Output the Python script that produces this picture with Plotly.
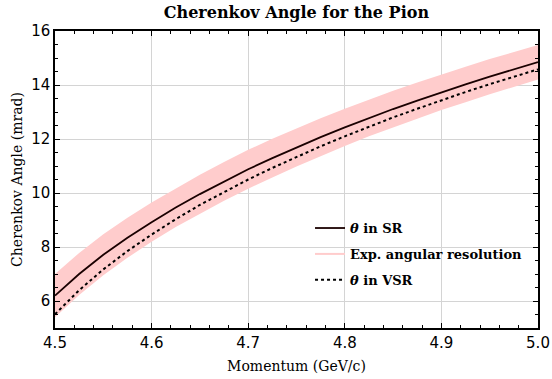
import plotly.graph_objects as go

momentum = [4.5, 4.525, 4.55, 4.575, 4.6, 4.625, 4.65, 4.675, 4.7, 4.725, 4.75,
            4.775, 4.8, 4.825, 4.85, 4.875, 4.9, 4.925, 4.95, 4.975, 5.0]
theta_sr = [6.20, 7.00, 7.71, 8.34, 8.92, 9.46, 9.96, 10.43, 10.88, 11.29, 11.69,
            12.07, 12.43, 12.78, 13.11, 13.42, 13.73, 14.02, 14.31, 14.58, 14.85]
theta_vsr = [5.51, 6.40, 7.17, 7.85, 8.46, 9.03, 9.56, 10.04, 10.50, 10.93, 11.34,
             11.73, 12.10, 12.46, 12.80, 13.12, 13.44, 13.74, 14.03, 14.31, 14.58]
res_upper = [7.00, 7.78, 8.47, 9.08, 9.65, 10.18, 10.68, 11.15, 11.60, 12.01, 12.40,
             12.77, 13.12, 13.46, 13.79, 14.09, 14.39, 14.68, 14.96, 15.23, 15.48]
res_lower = [5.40, 6.22, 6.95, 7.60, 8.19, 8.74, 9.24, 9.71, 10.16, 10.57, 10.98,
             11.37, 11.74, 12.10, 12.43, 12.75, 13.07, 13.36, 13.66, 13.93, 14.20]

x_ticks = [4.5, 4.6, 4.7, 4.8, 4.9, 5.0]
x_tick_labels = ["4.5", "4.6", "4.7", "4.8", "4.9", "5.0"]
y_ticks = [6, 8, 10, 12, 14, 16]

pink = "#ffcccc"
fig = go.Figure()

fig.add_trace(go.Scatter(
    x=momentum + momentum[::-1], y=res_upper + res_lower[::-1],
    fill="toself", fillcolor=pink, line=dict(width=0), mode="lines",
    showlegend=False, hoverinfo="skip"))

fig.add_trace(go.Scatter(
    x=momentum, y=theta_sr, mode="lines", line=dict(color="#1a0000", width=1.8),
    name="<b><i>θ</i> in SR</b>", legendrank=1, legendgroup="a"))
fig.add_trace(go.Scatter(
    x=[None], y=[None], mode="lines", line=dict(color=pink, width=2),
    name="<b>Exp. angular resolution</b>", legendrank=2, legendgroup="b"))
fig.add_trace(go.Scatter(
    x=momentum, y=theta_vsr, mode="lines",
    line=dict(color="black", width=2, dash="3px,3px"),
    name="<b><i>θ</i> in VSR</b>", legendrank=3, legendgroup="c"))

axis_common = dict(
    showline=True, linecolor="black", linewidth=1.5, mirror="allticks",
    ticks="inside", ticklen=5, tickcolor="black", tickwidth=1,
    showgrid=True, gridcolor="#d4d4d4", gridwidth=1, zeroline=False,
    automargin=False,
    tickfont=dict(family="DejaVu Sans", size=15, color="black"),
)

fig.update_xaxes(
    range=[4.5, 5.0], tickvals=x_ticks, ticktext=x_tick_labels,
    minor=dict(dtick=0.02, tick0=4.5, ticks="inside", ticklen=3, tickcolor="black", showgrid=False),
    title=dict(text="Momentum (GeV/c)", font=dict(family="DejaVu Serif", size=14, color="black"), standoff=10),
    **axis_common)
fig.update_yaxes(
    range=[5, 16], tickvals=y_ticks,
    minor=dict(dtick=0.5, tick0=5, ticks="inside", ticklen=3, tickcolor="black", showgrid=False),
    title=dict(text="Cherenkov Angle (mrad)", font=dict(family="DejaVu Serif", size=14, color="black"), standoff=5),
    **axis_common)

fig.update_layout(
    width=552, height=379,
    margin=dict(l=55, r=14, t=31, b=51),
    paper_bgcolor="white", plot_bgcolor="white",
    title=dict(text="<b>Cherenkov Angle for the Pion</b>", x=0.537, xanchor="center",
               y=0.966, yanchor="middle",
               font=dict(family="DejaVu Serif", size=16, color="black")),
    legend=dict(x=0.528, xanchor="left", y=0.387, yanchor="top",
                bgcolor="rgba(0,0,0,0)", traceorder="grouped", tracegroupgap=6,
                font=dict(family="DejaVu Serif", size=13, color="black")),
)

fig.write_html("out.html", config={"displayModeBar": False},
               post_script="document.body.style.margin='0';")
